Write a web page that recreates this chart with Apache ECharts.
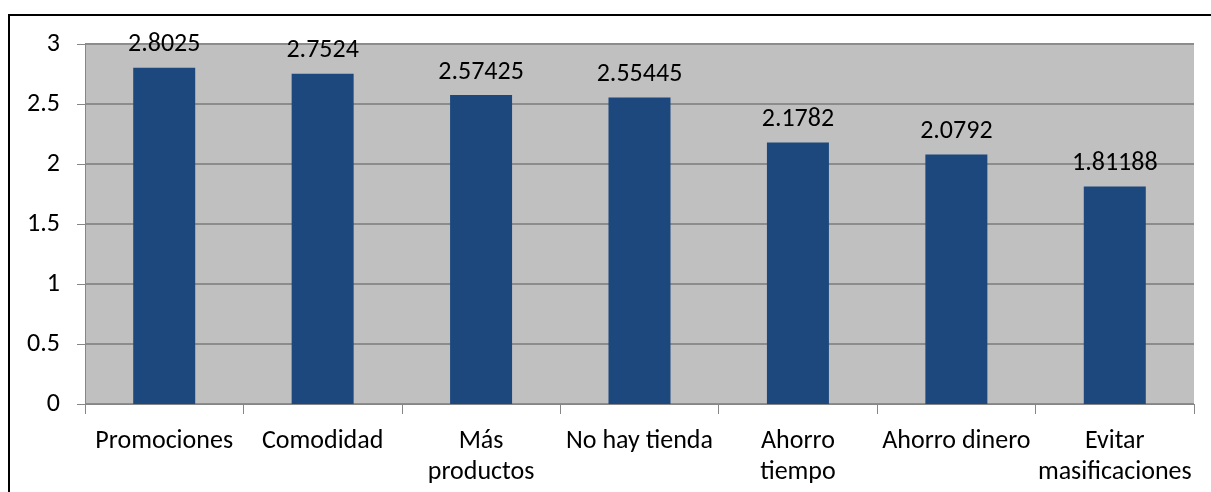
<!DOCTYPE html>
<html>
<head>
<meta charset="utf-8">
<script src="https://cdn.jsdelivr.net/npm/echarts@6/dist/echarts.min.js"></script>
<style>
  html, body { margin: 0; padding: 0; background: #ffffff; }
  #chart { width: 1211px; height: 492px; }
</style>
</head>
<body>
<div id="chart"></div>
<script>
// Motivos de compra: puntuación media por categoría
const categories = ['Promociones', 'Comodidad', 'Más\nproductos', 'No hay tienda', 'Ahorro\ntiempo', 'Ahorro dinero', 'Evitar\nmasificaciones'];
const values = [2.8025, 2.7524, 2.57425, 2.55445, 2.1782, 2.0792, 1.81188];
const valueLabels = ['2.8025', '2.7524', '2.57425', '2.55445', '2.1782', '2.0792', '1.81188'];

const FONT = 'Carlito, monospace';
const FS = 26;
const chart = echarts.init(document.getElementById('chart'), null, { renderer: 'canvas' });

chart.setOption({
  animation: false,
  textStyle: { fontFamily: FONT },
  grid: {
    left: 85, right: 17, top: 44, bottom: 88,
    show: true, backgroundColor: '#c0c0c0', borderWidth: 0
  },
  graphic: [{
    type: 'rect',
    shape: { x: 9, y: 15, width: 1220, height: 500 },
    style: { fill: 'none', stroke: '#000000', lineWidth: 2 },
    silent: true
  }],
  xAxis: {
    type: 'category',
    data: categories,
    axisLine: { show: true, lineStyle: { color: '#868686', width: 1 } },
    axisTick: { show: true, length: 10, lineStyle: { color: '#868686' } },
    axisLabel: {
      color: '#000000', fontSize: FS, fontFamily: FONT, margin: 22,
      lineHeight: 31, interval: 0
    }
  },
  yAxis: {
    type: 'value',
    min: 0, max: 3, interval: 0.5,
    axisLine: { show: true, lineStyle: { color: '#868686', width: 1 } },
    axisTick: { show: true, length: 8, lineStyle: { color: '#868686' } },
    axisLabel: { color: '#000000', fontSize: FS, fontFamily: FONT, margin: 25 },
    splitLine: { show: true, lineStyle: { color: '#8c8c8c', width: 2 } }
  },
  series: [{
    type: 'bar',
    data: values,
    barWidth: 62,
    itemStyle: { color: '#1c487d' },
    label: {
      show: true, position: 'top', distance: 10,
      color: '#000000', fontSize: FS, fontFamily: FONT,
      formatter: p => valueLabels[p.dataIndex]
    }
  }]
});
</script>
</body>
</html>
